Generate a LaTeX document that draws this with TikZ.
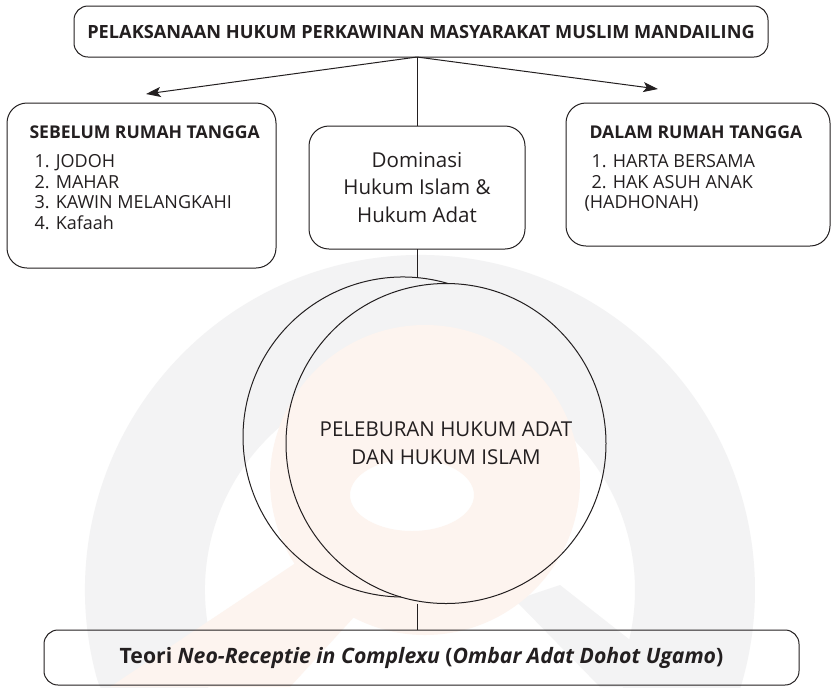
\documentclass[tikz,border=0pt]{standalone}
\usepackage{fontspec}
\setmainfont{Open Sans}
\usetikzlibrary{arrows.meta}
\definecolor{ink}{HTML}{231F20}
\definecolor{wmgray}{HTML}{F3F3F4}
\definecolor{wmpeach}{HTML}{FDF4EF}
\begin{document}
\begin{tikzpicture}[x=0.75pt,y=-0.75pt,
  line width=0.75pt,
  box/.style={draw=ink, rounded corners=15pt, inner sep=0pt, outer sep=0pt},
  wide/.style={box, rounded corners=10.5pt},
  lbl/.style={text=ink, inner sep=0pt, anchor=base west, font=\fontsize{13.5}{16}\selectfont},
  head/.style={lbl, font=\fontsize{13.2}{16}\selectfont\bfseries},
  big/.style={text=ink, align=center, font=\fontsize{15.4}{20.6}\selectfont},
  link/.style={draw=ink, line width=0.75pt},
  arr/.style={link, -{Stealth[length=11pt, width=7.5pt, inset=2.5pt]}}
]
\useasboundingbox (0,0) rectangle (832,687);
\fill[white] (0,0) rectangle (832,687);

% faint logo in the background
\coordinate (wm) at (420,590);
\draw[wmgray, line width=90pt, line cap=round]
  ([shift={(165:275)}]wm) arc[start angle=165, end angle=378, radius=275];
\fill[wmgray] (515,600) -- (560,585) -- (690,687) -- (600,687) -- cycle;
\fill[wmpeach, even odd rule] (425,480) circle[radius=155]
  (412,495) ellipse[x radius=62, y radius=36];
\fill[wmpeach] (360,520) -- (420,545) -- (290,687) -- (110,687) -- cycle;

% boxes
\node[wide, minimum width=520.5pt, minimum height=38.25pt,
      font=\fontsize{13.65}{16}\selectfont\bfseries, text=ink]
  (top) at (421,31.5) {PELAKSANAAN HUKUM PERKAWINAN MASYARAKAT MUSLIM MANDAILING};
\node[box, minimum width=201.75pt, minimum height=123.75pt] (before) at (141.5,185.5) {};
\node[box, minimum width=162pt, minimum height=92.25pt, big] (mid) at (417,187.5)
  {Dominasi\\Hukum Islam \&\\Hukum Adat};
\node[box, minimum width=198pt, minimum height=107.25pt] (during) at (698,174.5) {};
\node[wide, minimum width=566.25pt, minimum height=41.25pt,
      font=\fontsize{15.9}{18}\selectfont\bfseries, text=ink]
  (theory) at (421.5,657.5)
  {Teori \textit{Neo-Receptie in Complexu} (\textit{Ombar Adat Dohot Ugamo})};

% box contents
\node[head] (bt) at (29,138.5) {SEBELUM RUMAH TANGGA};
\node[lbl] (b1) at (34,167) {1. JODOH};
\node[lbl] (b2) at (34,188) {2. MAHAR};
\node[lbl] (b3) at (34,208.5) {3. KAWIN MELANGKAHI};
\node[lbl] (b4) at (34,229) {4. Kafaah};

\node[head] (dt) at (589,138.5) {DALAM RUMAH TANGGA};
\node[lbl] (d1) at (591,167) {1. HARTA BERSAMA};
\node[lbl] (d2) at (591,188) {2. HAK ASUH ANAK};
\node[lbl] (d3) at (584,208.5) {(HADHONAH)};

% the two overlapping circles
\node[circle, minimum size=240pt, inner sep=0pt, outer sep=0pt] (adat) at (403,437) {};
\node[circle, draw=ink, minimum size=240pt, inner sep=0pt, outer sep=0pt, big,
      font=\fontsize{15.4}{21}\selectfont] (fuse) at (446,443.5)
  {PELEBURAN HUKUM ADAT\\DAN HUKUM ISLAM};
\draw[ink] ([shift={(-73.59:160)}]adat.center)
  arc[start angle=-73.59, end angle=-269.21, radius=160];

% connectors
\coordinate (jn) at (top.south -| mid.north);
\coordinate (tipL) at (146,94);
\coordinate (tipR) at (658,89);
\draw[arr] (jn) -- (tipL);
\draw[arr] (jn) -- (tipR);
\draw[link] (jn) -- (mid.north);
\draw[link] (mid.south) -- (mid.south |- adat.north);
\draw[link] (fuse.south -| mid.south) -- (theory.north -| mid.south);
\end{tikzpicture}
\end{document}
